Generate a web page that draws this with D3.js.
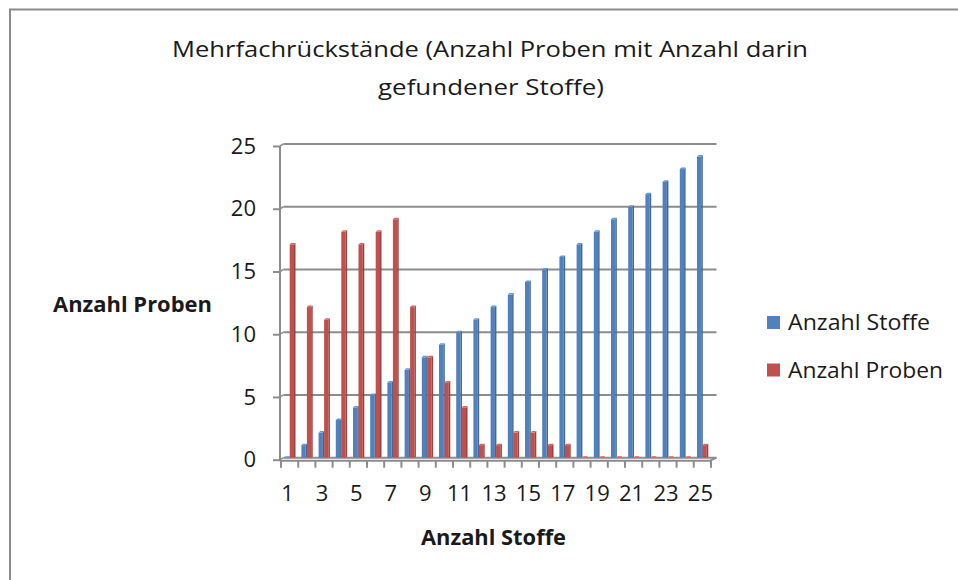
<!DOCTYPE html>
<html>
<head>
    <meta charset="utf-8" />
    <title>Mehrfachrückstände</title>
    <style>
        body { margin: 0; background: #fff; }
        text { font-family: "Open Sans", Lato, sans-serif; fill: #1a1a1a; }
    </style>
</head>
<body>
<script src="https://d3js.org/d3.v7.min.js"></script>
<script>
    // data
    var categories = d3.range(1, 26);
    var anzahlStoffe = [0, 1, 2, 3, 4, 5, 6, 7, 8, 9, 10, 11, 12, 13, 14, 15, 16, 17, 18, 19, 20, 21, 22, 23, 24];
    var anzahlProben = [17, 12, 11, 18, 17, 18, 19, 12, 8, 6, 4, 1, 1, 2, 2, 1, 1, 0, 0, 0, 0, 0, 0, 0, 1];
    var yTicks = [0, 5, 10, 15, 20, 25];
    var seriesNames = ["Anzahl Stoffe", "Anzahl Proben"];
    var seriesColors = ["#4f81bd", "#c0504d"];

    var width = 958;
    var height = 580;

    var svg = d3.select("body").append("svg")
                .attr("width", width)
                .attr("height", height);

    // stretch a text to the width the original (Calibri) text takes
    function fit(sel, w) {
        sel.attr("textLength", w).attr("lengthAdjust", "spacingAndGlyphs");
    }

    // chart frame (only top and left edge are visible)
    svg.append("path")
       .attr("d", "M10,580 L10,9.5 L958,9.5")
       .attr("fill", "none")
       .attr("stroke", "#8c8c8c")
       .attr("stroke-width", 2);

    // title
    svg.append("text")
       .attr("x", 490).attr("y", 57)
       .attr("text-anchor", "middle")
       .style("font-size", "22.5px")
       .text("Mehrfachrückstände (Anzahl Proben mit Anzahl darin")
       .call(fit, 636);
    svg.append("text")
       .attr("x", 491).attr("y", 95)
       .attr("text-anchor", "middle")
       .style("font-size", "22.5px")
       .text("gefundener Stoffe)")
       .call(fit, 226);

    var x = d3.scaleBand()
              .domain(categories)
              .range([282, 712]);

    var y = d3.scaleLinear()
              .domain([0, 25])
              .range([457.7, 144]);

    var depth = 3.5;
    var gridColor = "#8c8c8c";

    // back wall gridlines
    var grid = svg.append("g");
    grid.selectAll("line.grid")
        .data(yTicks)
        .enter().append("line")
        .attr("class", "grid")
        .attr("x1", 280 + depth)
        .attr("x2", 713 + depth)
        .attr("y1", d => y(d))
        .attr("y2", d => y(d))
        .attr("stroke", gridColor)
        .attr("stroke-width", 2);

    grid.selectAll("line.corner")
        .data(yTicks)
        .enter().append("line")
        .attr("class", "corner")
        .attr("x1", 280)
        .attr("x2", 280 + depth)
        .attr("y1", d => y(d) + 2)
        .attr("y2", d => y(d))
        .attr("stroke", gridColor)
        .attr("stroke-width", 1.5);

    // y axis
    var yAxis = d3.axisLeft(y)
                  .tickValues(yTicks)
                  .tickSize(7)
                  .tickPadding(17);
    var yG = svg.append("g")
                .attr("transform", "translate(280,2)")
                .call(yAxis);
    yG.select(".domain").remove();
    yG.selectAll(".tick line").attr("stroke", gridColor).attr("stroke-width", 2);
    yG.selectAll(".tick text")
      .style("font-size", "22px")
      .style("font-family", "'Open Sans', sans-serif")
      .attr("fill", "#1a1a1a");

    svg.append("line")
       .attr("x1", 280).attr("x2", 280)
       .attr("y1", y(25) + 2).attr("y2", y(0) + 3)
       .attr("stroke", gridColor)
       .attr("stroke-width", 2);

    // floor edge
    svg.append("path")
       .attr("d", "M280," + (y(0) + 3) + " L" + (712 - 2) + "," + (y(0) + 3) + " L" + (713 + depth) + "," + y(0))
       .attr("fill", "none")
       .attr("stroke", gridColor)
       .attr("stroke-width", 2);

    // x ticks at category boundaries
    var boundaries = categories.map(d => x(d)).concat([x(25) + x.bandwidth()]);
    svg.append("g").selectAll("line")
       .data(boundaries)
       .enter().append("line")
       .attr("x1", d => d - 1)
       .attr("x2", d => d - 1)
       .attr("y1", y(0) + 3)
       .attr("y2", y(0) + 10)
       .attr("stroke", gridColor)
       .attr("stroke-width", 2);

    // x labels, every second category
    svg.append("g").selectAll("text")
       .data(categories.filter(d => d % 2 == 1))
       .enter().append("text")
       .attr("x", d => x(d) + x.bandwidth() / 2 - 3)
       .attr("y", 501)
       .attr("text-anchor", "middle")
       .style("font-size", "22px")
       .text(d => d);

    // bars
    var barW = 5.5;
    var series = [anzahlStoffe, anzahlProben];
    series.forEach(function(values, s) {
        var color = d3.color(seriesColors[s]);
        var g = svg.append("g");
        var bars = g.selectAll("g")
                    .data(values.map((v, i) => ({cat: categories[i], v: v})))
                    .enter().append("g")
                    .attr("transform", d => "translate(" + (x(d.cat) + 2.2 + s * barW) + ",0)");

        // front face
        bars.append("rect")
            .attr("x", 0)
            .attr("y", d => y(d.v))
            .attr("width", barW - 1.2)
            .attr("height", d => Math.max(0, y(0) - y(d.v)))
            .attr("fill", color.formatHex());

        // side face
        bars.append("path")
            .attr("d", d => "M" + (barW - 1.2) + "," + y(d.v) + " L" + (barW + 0.3) + "," + (y(d.v) - 1.5) +
                             " L" + (barW + 0.3) + "," + (y(0) - 1.5) + " L" + (barW - 1.2) + "," + y(0) + "Z")
            .attr("fill", color.darker(0.6).formatHex());

        // top face
        bars.append("path")
            .attr("d", d => "M0," + y(d.v) + " L1.5," + (y(d.v) - 1.5) + " L" + (barW + 0.3) + "," + (y(d.v) - 1.5) +
                             " L" + (barW - 1.2) + "," + y(d.v) + "Z")
            .attr("fill", color.brighter(0.5).formatHex());
    });

    // axis titles
    svg.append("text")
       .attr("x", 132.5)
       .attr("y", 312)
       .attr("text-anchor", "middle")
       .style("font-size", "21px")
       .style("font-weight", "bold")
       .text("Anzahl Proben")
       .call(fit, 159);

    svg.append("text")
       .attr("x", 493.5)
       .attr("y", 545)
       .attr("text-anchor", "middle")
       .style("font-size", "21px")
       .style("font-weight", "bold")
       .text("Anzahl Stoffe")
       .call(fit, 145);

    // legend
    var legendWidths = [142, 155];
    var legend = svg.append("g")
                    .selectAll("g")
                    .data(seriesNames)
                    .enter().append("g")
                    .attr("transform", (d, i) => "translate(767," + (316 + i * 47.5) + ")");
    legend.append("rect")
          .attr("width", 13)
          .attr("height", 13)
          .attr("fill", (d, i) => seriesColors[i]);
    legend.append("text")
          .attr("x", 21)
          .attr("y", 14)
          .style("font-size", "21px")
          .text(d => d)
          .attr("textLength", (d, i) => legendWidths[i])
          .attr("lengthAdjust", "spacingAndGlyphs");
</script>
</body>
</html>
